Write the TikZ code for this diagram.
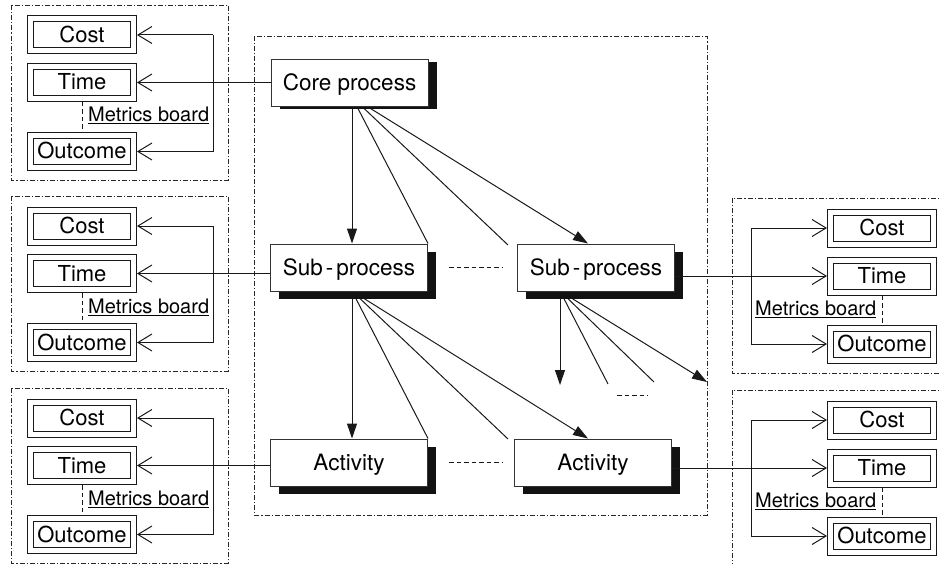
\documentclass[tikz,border=0pt]{standalone}
\usepackage{fontspec}
\setmainfont{TeX Gyre Heros}
\usetikzlibrary{arrows.meta,shadows,backgrounds,fit}
\newcommand\mkmetric[3]{%
  \node[metric] (#1i) at (#2) {#3};
  \node[metricout, fit=(#1i)] (#1) {};
}
\newcommand\mkleftgroup[2]{%
  \draw[frame] (11,#2) rectangle (228,#2+175);
  \mkmetric{#1c}{82,#2+30}{Cost}
  \mkmetric{#1t}{82,#2+77.5}{Time}
  \mkmetric{#1o}{82,#2+146.5}{Outcome}
  \draw[dsh] (#1t.south) -- (#1o.north);
  \node[mb] (#1m) at (88,#2+117) {\underline{Metrics board}};
  \coordinate (#1j) at (213,#2+30);
  \draw[open] (#1j) -- (#1c.east);
  \draw[open] (#1j) |- (#1o.east);
}
\newcommand\mkrightgroup[2]{%
  \draw[frame] (732,#2) rectangle (960,#2+175);
  \mkmetric{#1c}{882,#2+30}{Cost}
  \mkmetric{#1t}{882,#2+78}{Time}
  \mkmetric{#1o}{882,#2+146}{Outcome}
  \draw[dsh] (#1t.south) -- (#1o.north);
  \node[mb] (#1m) at (755,#2+117) {\underline{Metrics board}};
  \coordinate (#1j) at (751,#2+30);
  \draw[open] (#1j) -- (#1c.west);
  \draw[open] (#1j) |- (#1o.west);
}
\begin{document}
\begin{tikzpicture}[x=1pt,y=-1pt,
  frame/.style={draw=black!85, line width=0.8pt, dash pattern=on 5pt off 2pt on 1.2pt off 2pt},
  procbase/.style={draw=black!80, line width=1pt, fill=white, minimum width=157pt, minimum height=47pt, inner sep=0pt, text height=16pt, text depth=0pt, font=\fontsize{22.5}{26}\selectfont},
  proc/.style={procbase, general shadow={fill=black!93, shadow xshift=8.5pt, shadow yshift=-8pt}},
  metric/.style={draw=black!90, line width=1pt, fill=white, minimum width=97pt, minimum height=26pt, inner sep=0pt, text height=15pt, text depth=0pt, font=\fontsize{22}{26}\selectfont},
  metricout/.style={draw=black!90, line width=1pt, inner sep=5.5pt},
  mb/.style={font=\fontsize{20}{24}\selectfont, inner sep=0pt, anchor=base west},
  conn/.style={draw=black!90, line width=1pt},
  open/.style={conn, -{Straight Barb[length=14pt, width=17pt, line width=1pt]}},
  fanarr/.style={conn, -{Triangle[length=15pt, width=10pt]}},
  dsh/.style={conn, dash pattern=on 4.5pt off 3pt},
]
\useasboundingbox (0,0) rectangle (939,564);

% central frame
\draw[frame] (254,36) rectangle (707,515);

% process boxes
\node[procbase, general shadow={fill=black!93, shadow xshift=8.5pt, shadow yshift=-3pt}] (core) at (349.5,83) {Core process};
\node[proc] (subL) at (349,267.5) {Sub\kern3pt-\kern3pt process};
\node[proc] (subR) at (596,267.5) {Sub\kern3pt-\kern3pt process};
\node[proc] (actL) at (349,462.5) {Activity};
\node[proc] (actR) at (593,462.5) {Activity};

% metric groups
\mkleftgroup{La}{5}
\mkleftgroup{Lb}{196}
\mkleftgroup{Lc}{388}
\mkrightgroup{Ra}{198}
\mkrightgroup{Rb}{390}

% time connectors
\draw[open] (core.west |- Lat.east) -- (Lat.east);
\draw[open] (subL.west |- Lbt.east) -- (Lbt.east);
\draw[open] (actL.west |- Lct.east) -- (Lct.east);
\draw[open] (subR.east |- Rat.west) -- (Rat.west);
\draw[open] (actR.east |- Rbt.west) -- (Rbt.west);

% dashed links between peers
\draw[dsh, shorten <=21pt, shorten >=15pt] (subL.east) -- (subR.west);
\draw[dsh, shorten <=21pt, shorten >=12pt] (actL.east) -- (actR.west);
\coordinate (d1) at (617,395);
\coordinate (d2) at (648,395);
\draw[dsh] (d1) -- (d2);

% fans
\begin{scope}[on background layer]
\coordinate (cf) at (352,97);
\coordinate (ce) at (508,245);
\draw[fanarr] (cf) -- (cf |- subL.north);
\draw[conn] (cf) -- (subL.north east);
\draw[conn] (cf) -- (ce);
\draw[fanarr] (cf) -- ([xshift=-8pt]subR.north);

\coordinate (sf) at (352,291);
\coordinate (se) at (508,439);
\draw[fanarr] (sf) -- (sf |- actL.north);
\draw[conn] (sf) -- (actL.north east);
\draw[conn] (sf) -- (se);
\draw[fanarr] (sf) -- ([xshift=-5pt]actR.north);

\coordinate (rf) at (560,291);
\coordinate (r1) at (560,385);
\coordinate (r2) at (608,384);
\coordinate (r3) at (654,382);
\coordinate (r4) at (707,382);
\draw[fanarr] (rf) -- (r1);
\draw[conn] (rf) -- (r2);
\draw[conn] (rf) -- (r3);
\draw[fanarr] (rf) -- (r4);
\end{scope}
\end{tikzpicture}
\end{document}
